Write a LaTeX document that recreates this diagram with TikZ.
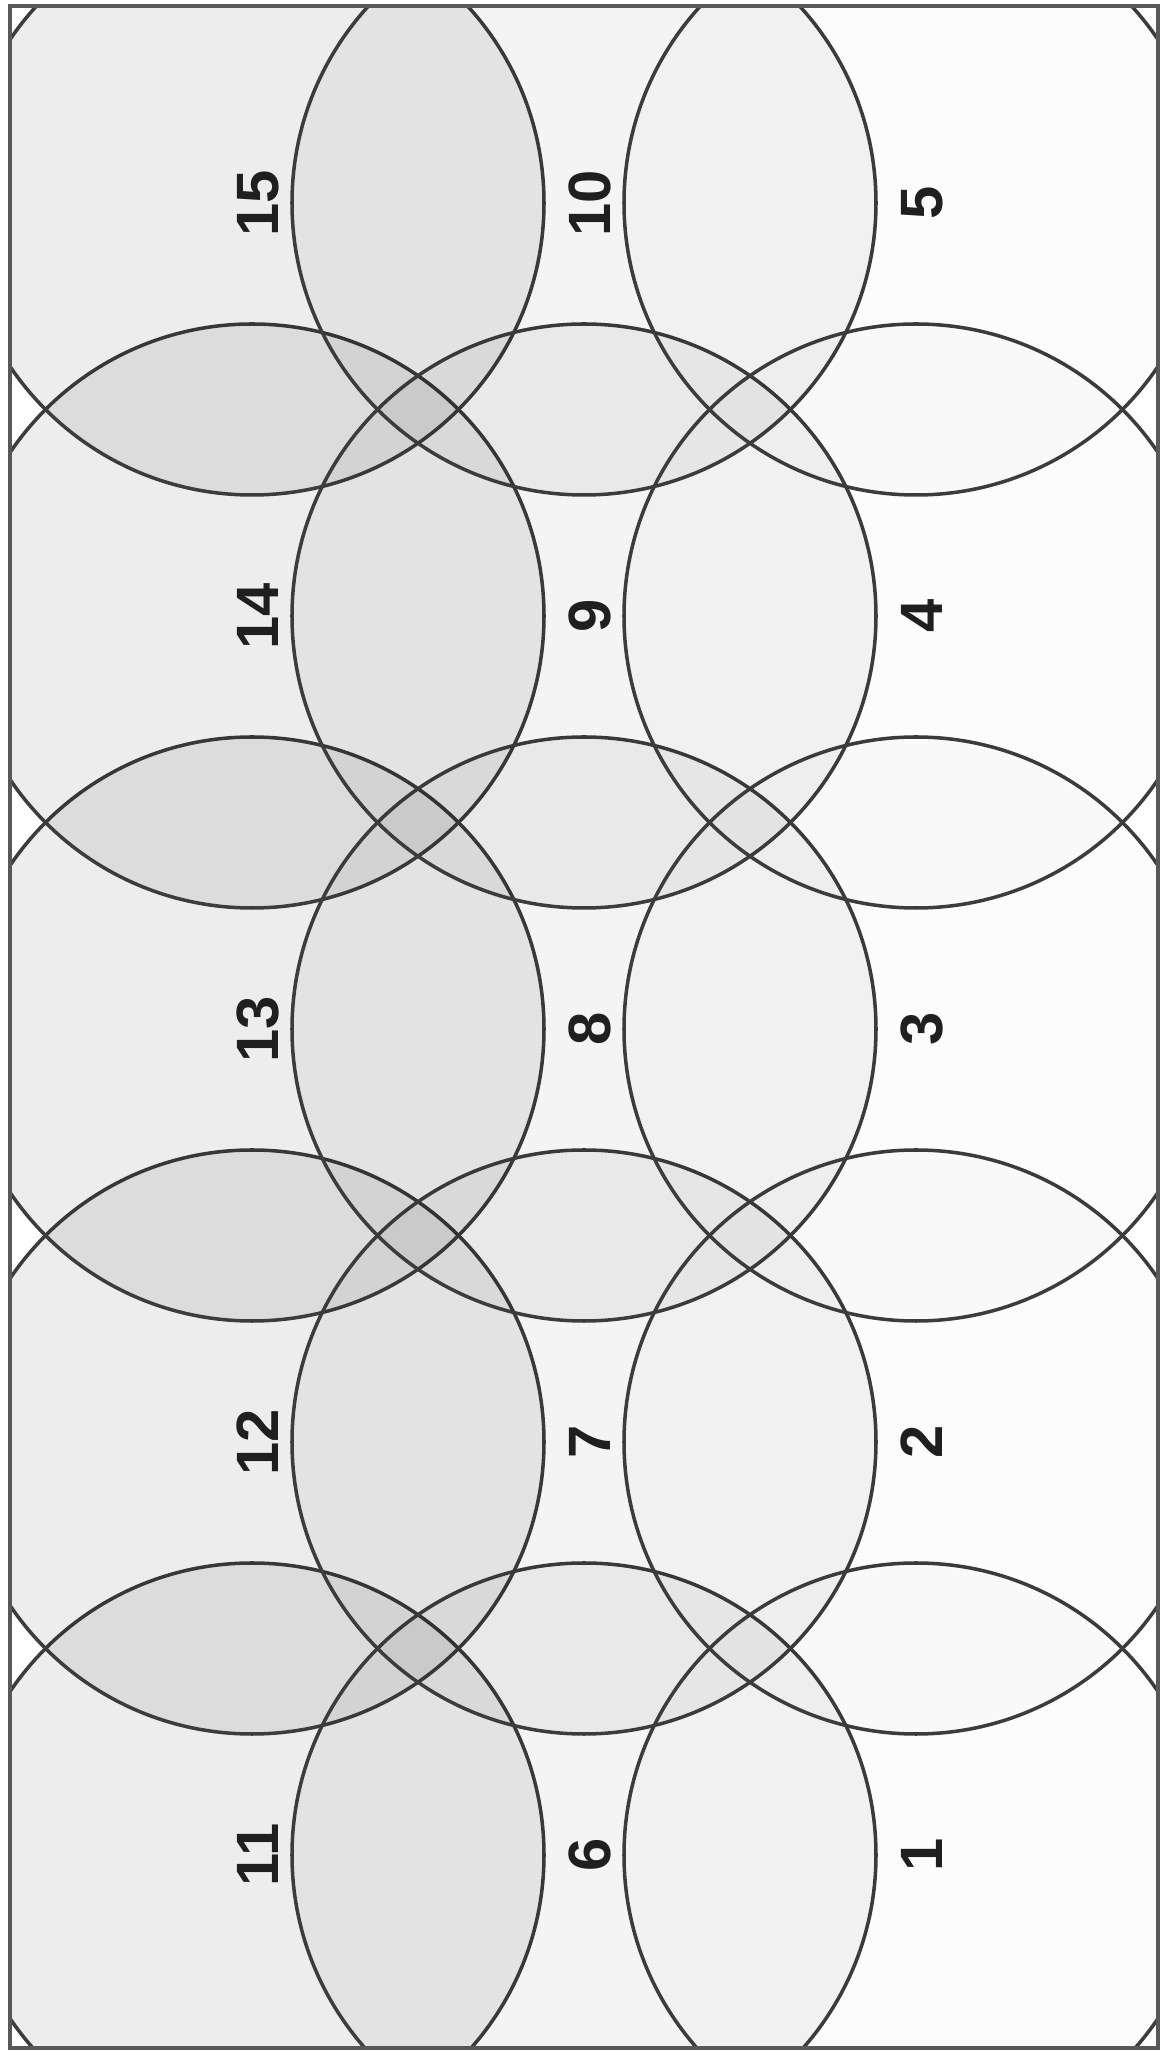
\documentclass[tikz,border=0pt]{standalone}
\usepackage{fontspec}
\setmainfont{Liberation Sans}
\usepackage{tikz}
\usepackage{xcolor}
\definecolor{ringline}{RGB}{60,60,60}
\definecolor{frameline}{RGB}{88,88,88}
\tikzset{
  zonenode/.style={circle,draw=ringline,line width=1pt,minimum size=58.4mm,inner sep=0pt,outer sep=0pt,fill=black},
  leftzone/.style={zonenode,fill opacity=0.07},
  midzone/.style={zonenode,fill opacity=0.045},
  rightzone/.style={zonenode,fill opacity=0.012},
  numnode/.style={xshift=0.6mm,rotate=90,font=\fontsize{17}{18}\selectfont\bfseries,inner sep=0pt,text=black!88}
}

\begin{document}
\begin{tikzpicture}
  \useasboundingbox (0,0) rectangle (11.64,20.51);
  \begin{scope}
    \clip (0.10,0.03) rectangle (11.58,20.45);
    \node[leftzone] (z11) at (2.52,1.96) {};
    \node[leftzone] (z12) at (2.52,6.09) {};
    \node[leftzone] (z13) at (2.52,10.22) {};
    \node[leftzone] (z14) at (2.52,14.35) {};
    \node[leftzone] (z15) at (2.52,18.48) {};
    \node[midzone] (z6) at (5.84,1.96) {};
    \node[midzone] (z7) at (5.84,6.09) {};
    \node[midzone] (z8) at (5.84,10.22) {};
    \node[midzone] (z9) at (5.84,14.35) {};
    \node[midzone] (z10) at (5.84,18.48) {};
    \node[rightzone] (z1) at (9.16,1.96) {};
    \node[rightzone] (z2) at (9.16,6.09) {};
    \node[rightzone] (z3) at (9.16,10.22) {};
    \node[rightzone] (z4) at (9.16,14.35) {};
    \node[rightzone] (z5) at (9.16,18.48) {};
  \end{scope}
  \draw[frameline,line width=1.1pt] (0.10,0.03) rectangle (11.58,20.45);
  \node[numnode] (n1) at (z1) {1};
  \node[numnode] (n2) at (z2) {2};
  \node[numnode] (n3) at (z3) {3};
  \node[numnode] (n4) at (z4) {4};
  \node[numnode] (n5) at (z5) {5};
  \node[numnode] (n6) at (z6) {6};
  \node[numnode] (n7) at (z7) {7};
  \node[numnode] (n8) at (z8) {8};
  \node[numnode] (n9) at (z9) {9};
  \node[numnode] (n10) at (z10) {10};
  \node[numnode] (n11) at (z11) {11};
  \node[numnode] (n12) at (z12) {12};
  \node[numnode] (n13) at (z13) {13};
  \node[numnode] (n14) at (z14) {14};
  \node[numnode] (n15) at (z15) {15};
\end{tikzpicture}
\end{document}
